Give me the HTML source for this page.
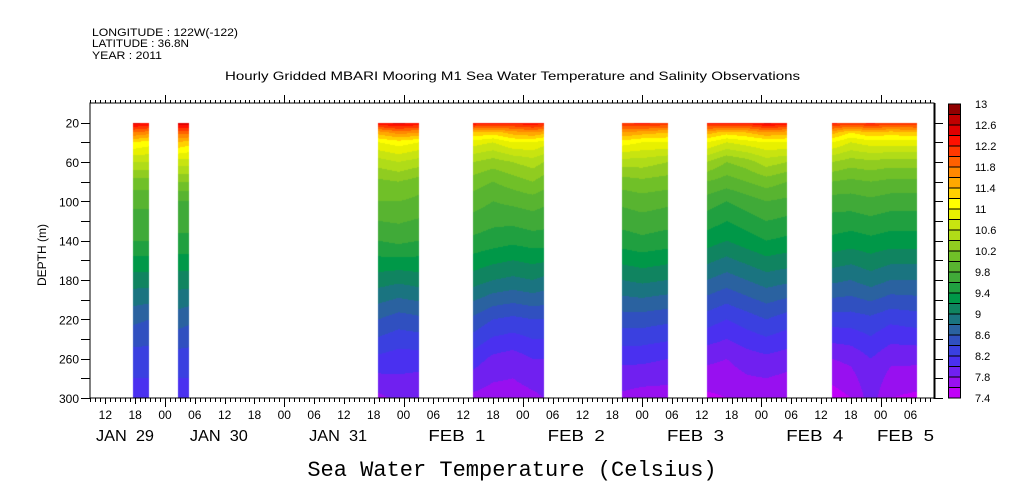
<!DOCTYPE html>
<html><head><meta charset="utf-8">
<style>
html,body{margin:0;padding:0;background:#fff;}
#wrap{position:relative;width:1009px;height:504px;overflow:hidden;}
svg,canvas{position:absolute;left:0;top:0;}
text{font-family:"Liberation Sans",sans-serif;fill:#000;}
</style></head>
<body>
<div id="wrap">
<canvas id="field" width="1009" height="504"></canvas>
<svg id="svg" width="1009" height="504"></svg>
</div>
<script>
// ---- data ----
const depths = [20,30,40,60,80,100,140,180,220,260,300];
const blockStarts = [17.6, 26.6, 66.9, 86.0, 116.0, 133.0, 158.2];
const blockEnds   = [20.8, 28.8, 75.1, 100.2, 125.2, 149.2, 175.3];
const colTimes = [17.6,20.8, 26.6,28.8, 67,71,75.1, 86,90,94,98,100.2, 116,120,125.2, 133,137,141,145,149.2, 158.2,162,166,170,175.3];
const colBlock = [0,0, 1,1, 2,2,2, 3,3,3,3,3, 4,4,4, 5,5,5,5,5, 6,6,6,6,6];
const colTemps = [
 [12.5,11.8,11.2,10.6,10.1,9.85,9.6,9.1,8.65,8.3,8.1],
 [12.4,11.7,11.1,10.6,10.1,9.85,9.6,9.1,8.6,8.3,8.1],
 [12.6,11.9,11.4,10.7,10.2,9.8,9.55,9.1,8.7,8.3,8.1],
 [12.6,11.9,11.3,10.7,10.2,9.8,9.55,9.1,8.65,8.3,8.1],
 [12.4,11.5,11.0,10.5,10.15,10.0,9.6,9.1,8.6,8.15,7.75],
 [12.5,11.7,11.1,10.6,10.2,10.0,9.65,9.05,8.5,8.1,7.85],
 [12.4,11.6,11.0,10.5,10.1,9.95,9.6,9.1,8.55,8.1,7.8],
 [12.4,11.4,10.9,10.4,10.1,9.9,9.55,9.1,8.55,8.1,7.75],
 [12.3,11.3,10.8,10.3,10.0,9.8,9.5,9.0,8.4,7.95,7.7],
 [12.3,11.5,11.0,10.4,10.1,9.85,9.45,8.95,8.35,7.9,7.7],
 [12.4,11.6,11.0,10.5,10.2,9.9,9.5,9.0,8.4,8.0,7.75],
 [12.3,11.5,10.9,10.4,10.1,9.85,9.5,8.95,8.4,8.0,7.8],
 [12.2,11.6,11.1,10.5,10.1,9.85,9.5,9.0,8.5,8.05,7.75],
 [12.3,11.5,11.0,10.5,10.15,9.9,9.55,9.05,8.5,8.05,7.7],
 [12.2,11.4,11.0,10.4,10.1,9.85,9.5,9.0,8.45,8.0,7.7],
 [12.3,11.5,11.0,10.4,10.0,9.7,9.3,8.8,8.3,7.85,7.55],
 [12.4,11.3,10.8,10.2,9.9,9.6,9.2,8.7,8.2,7.8,7.6],
 [12.3,11.4,10.9,10.3,10.0,9.7,9.3,8.8,8.3,7.9,7.65],
 [12.5,11.6,11.0,10.5,10.1,9.8,9.4,8.9,8.4,7.95,7.65],
 [12.4,11.5,11.0,10.4,10.0,9.75,9.35,8.85,8.3,7.9,7.6],
 [12.3,11.5,11.0,10.4,10.0,9.7,9.35,8.85,8.3,7.8,7.5],
 [12.2,11.2,10.8,10.3,9.95,9.7,9.3,8.8,8.3,7.85,7.6],
 [12.3,11.4,10.9,10.35,10.0,9.75,9.35,8.9,8.35,8.0,7.9],
 [12.2,11.3,10.9,10.3,9.95,9.7,9.3,8.8,8.25,7.85,7.6],
 [12.2,11.4,10.9,10.3,9.95,9.7,9.3,8.8,8.3,7.85,7.55]
];
const levelColors = ["#c000f8","#9810f0","#7020f0","#4a30f0","#3a40e0","#3050c0","#2a62a0","#1a7480","#108460","#009848","#20a040","#40aa38","#58b430","#70c028","#90cc20","#b0dc18","#c8e410","#e8f000","#ffff00","#ffd000","#ffa800","#ff8800","#ff6000","#ff3800","#ff1000","#e00000","#c00000","#900000"];
const levelMin = 7.4, levelStep = 0.2;
const cbLabels = ["13","12.6","12.2","11.8","11.4","11","10.6","10.2","9.8","9.4","9","8.6","8.2","7.8","7.4"];
const yTicks = [20,60,100,140,180,220,260,300];
const dayLabels = ["JAN  29","JAN  30","JAN  31","FEB  1","FEB  2","FEB  3","FEB  4","FEB  5"];

// ---- scales ----
const X0=90,X1=934,Y0=103,Y1=398;
const hx = h => 165 + (h-24)*4.97;
const xh = x => 24 + (x-165)/4.97;
const dy = d => Y0 + d*(Y1-Y0)/300;
const yd = y => (y-Y0)*300/(Y1-Y0);

function hexRgb(c){return [parseInt(c.substr(1,2),16),parseInt(c.substr(3,2),16),parseInt(c.substr(5,2),16)];}
const rgbs = levelColors.map(hexRgb);
function interpProfile(p,d){
  if(d<=depths[0]) return p[0];
  for(let i=1;i<depths.length;i++){ if(d<=depths[i]){const f=(d-depths[i-1])/(depths[i]-depths[i-1]);return p[i-1]+f*(p[i]-p[i-1]);} }
  return p[p.length-1];
}
// ---- field ----
const ctx=document.getElementById('field').getContext('2d');
const img=ctx.createImageData(1009,504);
for(let x=X0;x<X1;x++){
  const h=xh(x+0.5);
  let b=-1;
  for(let k=0;k<blockStarts.length;k++) if(h>=blockStarts[k]&&h<=blockEnds[k]) b=k;
  if(b<0) continue;
  const idx=[]; colTimes.forEach((t,i)=>{if(colBlock[i]===b) idx.push(i);});
  let a=idx[0],c=idx[0],f=0;
  for(let j=0;j<idx.length-1;j++){ if(h>=colTimes[idx[j]]&&h<=colTimes[idx[j+1]]){a=idx[j];c=idx[j+1];f=(h-colTimes[a])/(colTimes[c]-colTimes[a]);} }
  if(h>colTimes[idx[idx.length-1]]){a=c=idx[idx.length-1];f=0;}
  for(let y=Math.round(dy(20));y<Y1;y++){
    const d=yd(y+0.5);
    const t=interpProfile(colTemps[a],d)*(1-f)+interpProfile(colTemps[c],d)*f;
    let li=Math.floor((t-levelMin)/levelStep); li=Math.max(0,Math.min(rgbs.length-1,li));
    const o=(y*1009+x)*4,col=rgbs[li];
    img.data[o]=col[0];img.data[o+1]=col[1];img.data[o+2]=col[2];img.data[o+3]=255;
  }
}
ctx.putImageData(img,0,0);

// ---- axes ----
const svg=document.getElementById('svg');
const NS="http://www.w3.org/2000/svg";
function el(tag,attrs,parent){const e=document.createElementNS(NS,tag);for(const k in attrs)e.setAttribute(k,attrs[k]);(parent||svg).appendChild(e);return e;}
function txt(s,attrs){const e=el('text',attrs);e.textContent=s;return e;}

let e=el('rect',{x:X0,y:Y0,width:X1-X0,height:Y1-Y0,fill:'none',stroke:'#000','stroke-width':1});


e=el('line',{x1:X1+0.5,y1:Y0,x2:X1+0.5,y2:Y1+1,stroke:'#000','stroke-width':2});



const xt=el('g',{stroke:'#000','stroke-width':1});


for(let h=9;h<=178;h++){
  const x=Math.round(hx(h))+0.5;
  const L = h%24===0?9:(h%6===0?6:4);
  el('line',{x1:x,y1:Y1,x2:x,y2:Y1+L},xt);
  el('line',{x1:x,y1:Y0,x2:x,y2:Y0-(h%24===0?8:3)},xt);
}
for(let h=12;h<=174;h+=6){
  const hh=h%24; const s=(hh<10?'0':'')+hh;
  e=txt(s,{x:hx(h),y:419,'font-size':12,'text-anchor':'middle'});
  
  
}
dayLabels.forEach((s,i)=>{
  let x = hx(24*i+5);
  if(i===0) x=96;
  if(i===dayLabels.length-1) x=877;
  e=txt(s,{x:x,y:441,'font-size':16,textLength:(s.startsWith('JAN')?58:57),lengthAdjust:'spacingAndGlyphs'});
  e.setAttribute('style','white-space:pre');
  
  
});
const yt=el('g',{stroke:'#000','stroke-width':1});


for(let d=20;d<=300;d+=20){
  const y=Math.round(dy(d))+0.5;
  el('line',{x1:X0-9,y1:y,x2:X0,y2:y},yt);
  el('line',{x1:X1,y1:y,x2:X1+9,y2:y},yt);
}
yTicks.forEach(d=>{
  e=txt(String(d),{x:79,y:dy(d)+5,'font-size':12,'text-anchor':'end'});
  
  
});
e=txt('DEPTH (m)',{x:0,y:0,'font-size':12,'text-anchor':'middle',transform:'translate(46,255) rotate(-90)'});



// colorbar
const cb=el('g',{});


const cbT=104,cbB=398,cbH=(cbB-cbT)/levelColors.length;
levelColors.forEach((c,i)=>{
  const r=el('rect',{x:948.5,y:cbB-(i+1)*cbH,width:12,height:cbH,fill:c,stroke:'#000','stroke-width':1},cb);
  
  
});
cbLabels.forEach((s,i)=>{
  e=txt(s,{x:975,y:cbT+4+i*2*cbH,'font-size':11});
  
  
});

// header
[['LONGITUDE : 122W(-122)',36,146],['LATITUDE : 36.8N',47,97],['YEAR : 2011',59,70]].forEach(a=>{
  e=txt(a[0],{x:92,y:a[1],'font-size':11,textLength:a[2],lengthAdjust:'spacingAndGlyphs'});
  
  
});
e=txt('Hourly Gridded MBARI Mooring M1 Sea Water Temperature and Salinity Observations',{x:225,y:80,'font-size':12,textLength:575,lengthAdjust:'spacingAndGlyphs'});


e=txt('Sea Water Temperature (Celsius)',{x:512,y:476,'font-size':22,'text-anchor':'middle','font-family':'Liberation Mono, monospace'});
e.setAttribute('style','font-family:"Liberation Mono",monospace');


</script>
</body></html>
